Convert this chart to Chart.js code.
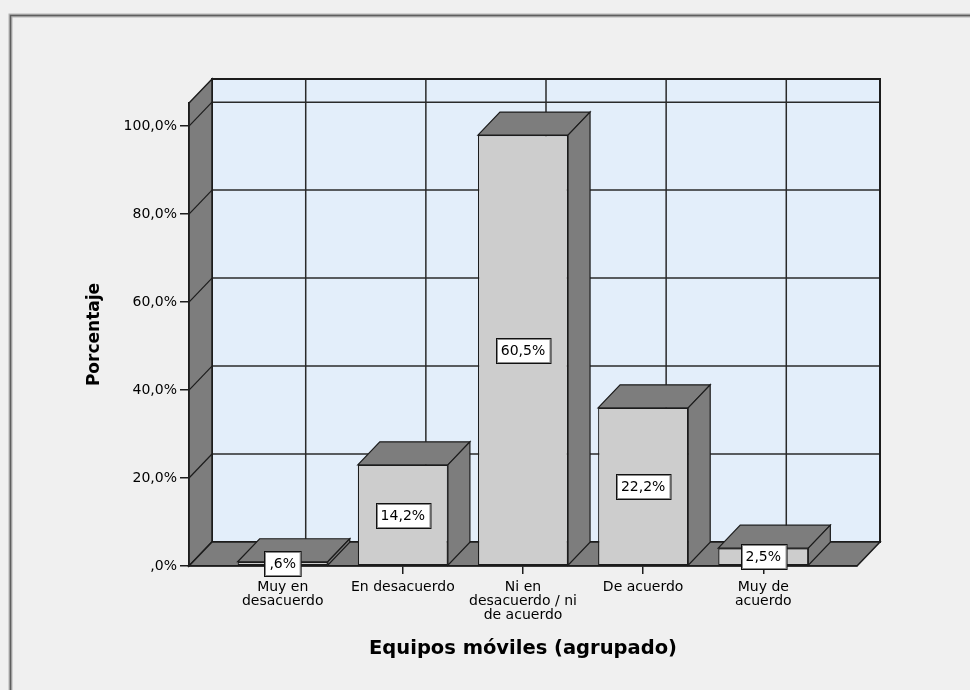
<!DOCTYPE html>
<html>
<head>
<meta charset="utf-8">
<script src="https://cdn.jsdelivr.net/npm/chart.js@4/dist/chart.umd.min.js"></script>
<style>
  html, body { margin: 0; padding: 0; background: #f0f0f0; }
  #wrap { width: 970px; height: 690px; }
</style>
</head>
<body>
<div id="wrap"><canvas id="chart" width="970" height="690"></canvas></div>
<script>
// Response categories (multi-line axis labels)
const categories = [
  ['Muy en', 'desacuerdo'],
  ['En desacuerdo'],
  ['Ni en', 'desacuerdo / ni', 'de acuerdo'],
  ['De acuerdo'],
  ['Muy de', 'acuerdo']
];
// Percentage of respondents per category
const percentages = [0.6, 14.2, 60.5, 22.2, 2.5];
// Vertical axis tick labels and their spacing in data units
const yTickLabels = [',0%', '20,0%', '40,0%', '60,0%', '80,0%', '100,0%'];
const yTickStep = 12.35;
const yMax = 65;

const FONT = 'DejaVu Sans';
const WALL_DX = 23, WALL_DY = -24;   // depth of the back wall
const BAR_DX = 22, BAR_DY = -23;     // depth of each bar
const SHADE = '#7d7d7d';
const EDGE = '#1c1c1c';

// Spanish-style percentage: decimal comma, no leading zero
const fmtPct = v => v.toFixed(1).replace('.', ',').replace(/^0/, '') + '%';

function poly(ctx, pts, fill, stroke, lw) {
  ctx.beginPath();
  ctx.moveTo(pts[0][0], pts[0][1]);
  for (let i = 1; i < pts.length; i++) ctx.lineTo(pts[i][0], pts[i][1]);
  ctx.closePath();
  if (fill) { ctx.fillStyle = fill; ctx.fill(); }
  if (stroke) { ctx.strokeStyle = stroke; ctx.lineWidth = lw || 1; ctx.stroke(); }
}

// Background frame, back wall with grid, left wall and floor
const scene3d = {
  id: 'scene3d',
  beforeDraw(chart) {
    const ctx = chart.ctx;
    const { left, right, top, bottom } = chart.chartArea;
    const xs = chart.scales.x, ys = chart.scales.y;
    ctx.save();
    ctx.fillStyle = '#f0f0f0';
    ctx.fillRect(0, 0, chart.width, chart.height);

    // outer frame (top and left edges)
    ctx.lineCap = 'butt';
    ctx.strokeStyle = '#b4b4b4';
    ctx.lineWidth = 4;
    ctx.beginPath();
    ctx.moveTo(10.5, chart.height); ctx.lineTo(10.5, 15.5); ctx.lineTo(chart.width, 15.5);
    ctx.stroke();
    ctx.strokeStyle = '#5e5e5e';
    ctx.lineWidth = 1.5;
    ctx.beginPath();
    ctx.moveTo(10.5, chart.height); ctx.lineTo(10.5, 15.5); ctx.lineTo(chart.width, 15.5);
    ctx.stroke();

    // back wall
    const bl = left + WALL_DX, br = right + WALL_DX, bt = top + WALL_DY, bb = bottom + WALL_DY;
    ctx.fillStyle = '#e3eefa';
    ctx.fillRect(bl, bt, br - bl, bb - bt);
    ctx.strokeStyle = '#2a2a2a';
    ctx.lineWidth = 1.5;
    ys.ticks.forEach(t => {
      const py = ys.getPixelForValue(t.value) + WALL_DY;
      ctx.beginPath(); ctx.moveTo(bl, py); ctx.lineTo(br, py); ctx.stroke();
    });
    xs.ticks.forEach(t => {
      const px = xs.getPixelForValue(t.value) + WALL_DX;
      ctx.beginPath(); ctx.moveTo(px, bt); ctx.lineTo(px, bb); ctx.stroke();
    });
    ctx.lineWidth = 2;
    ctx.strokeStyle = EDGE;
    ctx.strokeRect(bl, bt, br - bl, bb - bt);

    // left wall
    poly(ctx, [[left, bottom], [left, top], [bl, bt], [bl, bb]], SHADE, EDGE, 1.5);
    ctx.strokeStyle = EDGE;
    ctx.lineWidth = 1.2;
    ys.ticks.forEach(t => {
      const py = ys.getPixelForValue(t.value);
      ctx.beginPath(); ctx.moveTo(left, py); ctx.lineTo(bl, py + WALL_DY); ctx.stroke();
    });

    // floor
    poly(ctx, [[left, bottom], [right, bottom], [br, bb], [bl, bb]], SHADE, EDGE, 1.5);
    ctx.restore();
  },
  afterDatasetsDraw(chart) {
    const ctx = chart.ctx;
    const meta = chart.getDatasetMeta(0);
    ctx.save();
    ctx.lineJoin = 'miter';
    meta.data.forEach(bar => {
      const { x, y, base, width } = bar.getProps(['x', 'y', 'base', 'width'], true);
      const x1 = x - width / 2, x2 = x + width / 2;
      // top face
      poly(ctx, [[x1, y], [x2, y], [x2 + BAR_DX, y + BAR_DY], [x1 + BAR_DX, y + BAR_DY]], SHADE, EDGE, 1.2);
      // right side face
      poly(ctx, [[x2, y], [x2 + BAR_DX, y + BAR_DY], [x2 + BAR_DX, base + BAR_DY], [x2, base]], SHADE, EDGE, 1.2);
    });
    // value labels in white boxes
    ctx.font = '14px "' + FONT + '"';
    ctx.textAlign = 'center';
    ctx.textBaseline = 'middle';
    meta.data.forEach((bar, i) => {
      const { x, y, base } = bar.getProps(['x', 'y', 'base'], true);
      const txt = fmtPct(percentages[i]);
      const w = ctx.measureText(txt).width + 10;
      const h = 25;
      const cy = (y + base) / 2;
      const bx = Math.round(x - w / 2) + 0.5, by = Math.round(cy - h / 2) + 0.5;
      ctx.fillStyle = '#ffffff';
      ctx.fillRect(bx, by, w, h);
      ctx.strokeStyle = '#8a8a8a';
      ctx.lineWidth = 1;
      ctx.strokeRect(bx + 1, by + 1, w - 2, h - 2);
      ctx.strokeStyle = '#111';
      ctx.strokeRect(bx, by, w, h);
      ctx.fillStyle = '#000';
      ctx.fillText(txt, x, cy + 1);
    });
    ctx.restore();
  }
};

new Chart(document.getElementById('chart'), {
  type: 'bar',
  data: {
    datasets: [{
      data: percentages.map((v, i) => ({ x: i, y: v })),
      backgroundColor: '#cdcdcd',
      borderColor: EDGE,
      borderWidth: 1.2,
      borderSkipped: false,
      barPercentage: 0.75,
      categoryPercentage: 1.0
    }]
  },
  options: {
    responsive: false,
    animation: false,
    devicePixelRatio: 1,
    layout: { padding: { left: 80, top: 103, right: 113, bottom: 25 } },
    plugins: { legend: { display: false }, tooltip: { enabled: false } },
    scales: {
      x: {
        type: 'linear',
        min: -0.78,
        max: 4.78,
        offset: false,
        afterBuildTicks: s => { s.ticks = categories.map((c, i) => ({ value: i })); },
        afterFit: s => { s.height = 690 - 25 - 566; },
        ticks: {
          autoSkip: false,
          maxRotation: 0,
          padding: 6,
          color: '#000',
          font: { family: FONT, size: 14, lineHeight: 1.0 },
          callback: (v, i) => categories[i]
        },
        grid: { offset: false, drawOnChartArea: false, drawTicks: true, tickLength: 8, color: EDGE, lineWidth: 1.5 },
        border: { display: true, color: EDGE, width: 1.5 },
        title: {
          display: true,
          text: 'Equipos móviles (agrupado)',
          color: '#000',
          font: { family: FONT, size: 19.5, weight: 'bold' }
        }
      },
      y: {
        min: 0,
        max: yMax,
        afterBuildTicks: s => { s.ticks = yTickLabels.map((t, i) => ({ value: i * yTickStep })); },
        afterFit: s => { s.width = 189 - 80; },
        ticks: {
          padding: 3,
          color: '#000',
          font: { family: FONT, size: 14 },
          callback: (v, i) => yTickLabels[i]
        },
        grid: { drawOnChartArea: false, drawTicks: true, tickLength: 9, color: EDGE, lineWidth: 1.5 },
        border: { display: true, color: EDGE, width: 1.5 },
        title: {
          display: true,
          text: 'Porcentaje',
          color: '#000',
          font: { family: FONT, size: 17, weight: 'bold' }
        }
      }
    }
  },
  plugins: [scene3d]
});
</script>
</body>
</html>
